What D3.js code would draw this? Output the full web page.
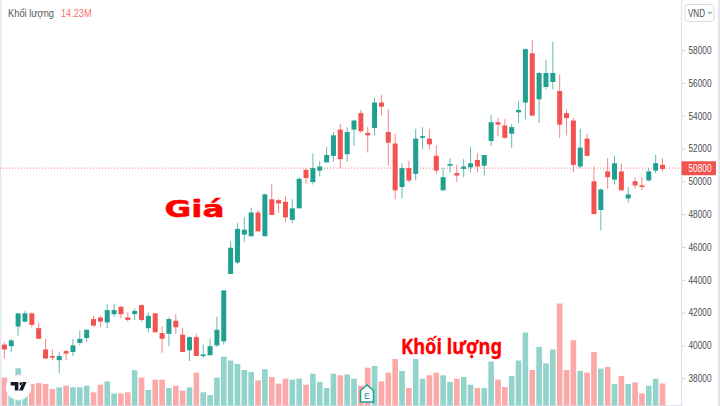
<!doctype html>
<html>
  <head>
    <meta charset="utf-8">
    <title>Khối lượng</title>
    <style>
      html, body { margin: 0; padding: 0; background: #fff; overflow: hidden; }
      text { font-family: "Liberation Sans", Arial, sans-serif; }
    </style>
  </head>
  <body>
    <div id="chart"></div>

    <script src="https://d3js.org/d3.v7.min.js"></script>
    <script>
      var opens = [40050,39950,41150,41450,41950,41050,39750,39350,39100,39650,39600,40150,40450,41600,41700,41400,41900,42350,41700,41900,42450,41050,41950,40750,40700,41500,40650,39700,40500,39350,39400,40000,40250,
        44350,45050,46750,46650,48100,46650,48900,48850,48750,47650,48350,50700,49950,50650,51150,51550,53150,51650,53150,54150,52950,53250,54800,53000,52300,49650,50800,50450,52650,52600,51550,49450,50950,50500,
        50750,50850,51300,50950,52450,53600,53400,52900,54200,54800,57800,55000,55750,56050,55500,54150,53700,50900,52600,50000,48250,50600,50100,50600,48950,50000,49750,50050,50650,51000];
      var closes = [39750,40300,41950,41950,41250,40400,39200,39250,39350,39500,40000,40400,40950,41200,41450,42150,42150,41900,41550,42100,41550,41800,40800,40400,41600,41100,39600,40500,39350,39450,39950,40950,43350,
        45950,47100,47050,48100,46950,49200,47950,48650,47800,48350,50150,50200,50800,50900,51600,52800,51350,53000,53700,53050,52800,54800,54550,52350,49450,50800,50050,52600,52750,52250,50650,50250,51050,50350,
        50900,51100,50900,51600,53600,53450,52650,53300,54350,58050,54000,56600,56600,56600,53450,53850,51000,52050,51550,48000,49500,50250,51100,49450,49200,49750,49650,50600,51100,50750];
      var highs = [40200,40400,41950,42100,42000,41400,40400,39750,39600,39700,40400,40900,40950,41800,41800,42500,42550,42400,42000,42250,42500,42000,41950,41150,41700,41900,41050,40550,40700,40050,40400,41750,43350,
        46350,47450,47800,48400,48250,49250,49850,48950,49100,48900,50250,50800,51700,51250,52100,53000,53500,53300,53750,54350,53300,55100,55250,54400,52900,51100,51250,53200,53300,53200,52200,50800,51400,51000,
        51350,52100,51700,51600,54050,53850,53800,53500,54900,58100,58600,56650,57400,58500,56500,54350,53850,53200,52900,50900,49550,51400,51550,51100,49650,50250,50250,50800,51600,51400];
      var lows = [39200,39600,40600,41400,41100,40400,39200,39100,38300,39100,39350,40000,40200,41150,41100,41050,41750,41650,41450,41550,41450,40800,40800,39550,39950,40700,39600,39050,39350,39250,39400,39900,40050,
        44350,44950,46300,46650,46950,46650,47950,48100,47500,47450,48350,49850,49800,50300,51150,51200,50800,51200,52150,52950,51750,52800,54000,50950,48900,48950,49950,50050,51950,51950,50450,49450,50550,49950,
        50250,50550,50550,50350,52150,52750,52600,52050,53550,53750,54000,53550,55600,55600,52650,52800,50550,50800,51550,48000,47000,49550,49800,49450,48700,49550,49450,50000,50500,50600];
      // khoi luong, trieu co phieu
      var volumes = [18.0,13.2,24.0,13.2,13.9,14.5,13.9,10.6,11.7,12.8,11.7,11.7,12.8,8.5,13.4,15.6,7.8,7.8,8.5,22.7,18.0,10.0,16.7,16.7,11.3,12.8,9.6,11.7,21.2,8.5,6.7,18.0,31.5,
        29.0,26.8,22.9,21.6,16.2,23.4,18.4,14.1,17.3,16.7,17.3,13.4,20.5,15.2,11.3,20.5,19.5,20.1,17.3,12.8,24.4,25.5,15.6,21.2,30.0,22.3,11.3,30.0,17.3,19.5,21.2,19.5,15.2,17.3,
        18.4,13.4,11.3,11.3,28.3,16.7,11.9,19.0,29.0,47.1,22.9,37.8,27.2,36.1,65.8,22.9,42.1,22.3,21.2,34.6,23.8,24.9,13.9,19.0,13.9,14.9,7.8,12.8,17.3,14.23];
      var priceTicks = [38000,40000,42000,44000,46000,48000,50000,52000,54000,56000,58000];
      var lastPrice = 50800;
      var lastVolume = '14.23M';

      var width = 720;
      var height = 406;
      var axisX = 681.5;
      var green = '#20a090';
      var red = '#f25350';
      var greenVol = '#92d4cc';
      var redVol = '#fba9a9';

      var x = d3.scaleLinear().domain([0, opens.length - 1]).range([4.4, 662.5]);
      var y = d3.scaleLinear().domain([38000, 58000]).range([378.2, 50]);
      var yVol = d3.scaleLinear().domain([0, 65.8]).range([405.5, 303.5]);

      var svg = d3.select('#chart')
        .append('svg')
        .attr('width', width)
        .attr('height', height)
        .style('display', 'block');

      function colorOf(i) { return closes[i] >= opens[i] ? green : red; }
      var index = d3.range(opens.length);

      // khung
      svg.append('rect').attr('x', 0).attr('y', 0).attr('width', 1.5).attr('height', height).attr('fill', '#e6e9f3');
      svg.append('rect').attr('x', 718).attr('y', 0).attr('width', 2).attr('height', height).attr('fill', '#e3e6ee');
      svg.append('line').attr('x1', 0).attr('x2', axisX).attr('y1', 405.5).attr('y2', 405.5).attr('stroke', '#e3e6ee');

      // volume
      svg.append('g').selectAll('rect')
        .data(index)
        .enter()
        .append('rect')
        .attr('x', function(i) { return x(i) - 2.8; })
        .attr('width', 5.6)
        .attr('y', function(i) { return yVol(volumes[i]); })
        .attr('height', function(i) { return yVol(0) - yVol(volumes[i]); })
        .attr('fill', function(i) { return closes[i] >= opens[i] ? greenVol : redVol; });

      // duong gia hien tai
      svg.append('line')
        .attr('x1', 0).attr('x2', axisX)
        .attr('y1', y(lastPrice)).attr('y2', y(lastPrice))
        .attr('stroke', red)
        .attr('stroke-opacity', 0.75)
        .attr('stroke-dasharray', '1 2');

      // nen
      var candles = svg.append('g').selectAll('g')
        .data(index)
        .enter()
        .append('g');
      candles.append('line')
        .attr('x1', function(i) { return x(i); })
        .attr('x2', function(i) { return x(i); })
        .attr('y1', function(i) { return y(highs[i]); })
        .attr('y2', function(i) { return y(lows[i]); })
        .attr('stroke', colorOf)
        .attr('stroke-opacity', 0.7)
        .attr('stroke-width', 1);
      candles.append('rect')
        .attr('x', function(i) { return x(i) - 2.5; })
        .attr('width', 5)
        .attr('y', function(i) { return y(Math.max(opens[i], closes[i])); })
        .attr('height', function(i) { return Math.max(1.5, Math.abs(y(opens[i]) - y(closes[i]))); })
        .attr('fill', colorOf);

      // truc gia
      var axis = svg.append('g')
        .attr('transform', 'translate(' + axisX + ',0)')
        .call(d3.axisRight(y).tickValues(priceTicks).tickSize(3.5).tickPadding(3).tickFormat(d3.format('d')));
      axis.select('.domain').remove();
      axis.append('line').attr('y1', 0).attr('y2', height).attr('stroke', '#dfe2ea').attr('stroke-width', 1.2);
      axis.selectAll('.tick line').attr('stroke', '#c9ccd4');
      axis.selectAll('.tick text')
        .attr('x', 7)
        .attr('fill', '#4a4d55')
        .attr('textLength', 23)
        .attr('lengthAdjust', 'spacingAndGlyphs')
        .style('font-family', '"Liberation Sans", Arial, sans-serif')
        .style('font-size', '10.5px');

      // nhan gia
      svg.append('rect')
        .attr('x', axisX).attr('y', y(lastPrice) - 7)
        .attr('width', 34.5).attr('height', 14)
        .attr('rx', 1)
        .attr('fill', red);
      svg.append('text')
        .attr('x', 688.5).attr('y', y(lastPrice) + 3.7)
        .attr('fill', '#fff')
        .attr('font-size', 10.5)
        .attr('textLength', 23)
        .attr('lengthAdjust', 'spacingAndGlyphs')
        .text(d3.format('d')(lastPrice));

      // nut VND
      svg.append('rect')
        .attr('x', 685).attr('y', 4.5)
        .attr('width', 29).attr('height', 17)
        .attr('rx', 3)
        .attr('fill', '#fff')
        .attr('stroke', '#d9dce3');
      svg.append('text')
        .attr('x', 688).attr('y', 16.5)
        .attr('fill', '#4a4d55')
        .attr('font-size', 10)
        .attr('textLength', 17)
        .attr('lengthAdjust', 'spacingAndGlyphs')
        .text('VND');
      svg.append('path')
        .attr('d', 'M708.2 11.8l1.8 1.8 1.8-1.8')
        .attr('fill', 'none')
        .attr('stroke', '#4a4d55');

      // legend
      svg.append('text')
        .attr('x', 8).attr('y', 17)
        .attr('fill', '#555860')
        .attr('font-size', 10.5)
        .attr('textLength', 46)
        .attr('lengthAdjust', 'spacingAndGlyphs')
        .text('Khối lượng');
      svg.append('text')
        .attr('x', 61).attr('y', 17)
        .attr('fill', '#f56f6c')
        .attr('font-size', 10.5)
        .attr('textLength', 30.5)
        .attr('lengthAdjust', 'spacingAndGlyphs')
        .text(lastVolume);

      // chu thich do
      svg.append('text')
        .attr('x', 164.5).attr('y', 217)
        .attr('fill', '#ff0000')
        .attr('stroke', '#ff0000')
        .attr('stroke-width', 0.5)
        .style('font-family', '"DejaVu Sans", sans-serif')
        .style('font-weight', 'bold')
        .style('font-size', '23px')
        .attr('textLength', 60)
        .attr('lengthAdjust', 'spacingAndGlyphs')
        .text('Giá');
      svg.append('text')
        .attr('x', 401).attr('y', 353.5)
        .attr('fill', '#ff0000')
        .attr('stroke', '#ff0000')
        .attr('stroke-width', 0.3)
        .style('font-family', '"Noto Sans", sans-serif')
        .style('font-weight', 'bold')
        .style('font-size', '22px')
        .attr('textLength', 101)
        .attr('lengthAdjust', 'spacingAndGlyphs')
        .text('Khối lượng');

      // logo TradingView
      svg.append('circle').attr('cx', 18.5).attr('cy', 387.5).attr('r', 12.5)
        .attr('fill', '#fff').attr('stroke', '#eef0f4');
      svg.append('path')
        .attr('d', 'M10.7 382h7.7v8.5h-3.6v-5H10.7zM21 382.2a1.6 1.6 0 1 0 0.01 0zM26.5 382l-3.6 8.5h-3.8l3.6-8.5z')
        .attr('fill', '#131722');

      // icon E
      svg.append('path')
        .attr('d', 'M360.5 390.5l6.5-5.5 6.5 5.5v11.5h-13z')
        .attr('fill', '#fff')
        .attr('stroke', '#20a090')
        .attr('stroke-width', 1.6);
      svg.append('text')
        .attr('x', 367).attr('y', 398.5)
        .attr('text-anchor', 'middle')
        .attr('fill', '#20a090')
        .attr('font-size', 9)
        .text('E');
    </script>
  </body>
</html>
